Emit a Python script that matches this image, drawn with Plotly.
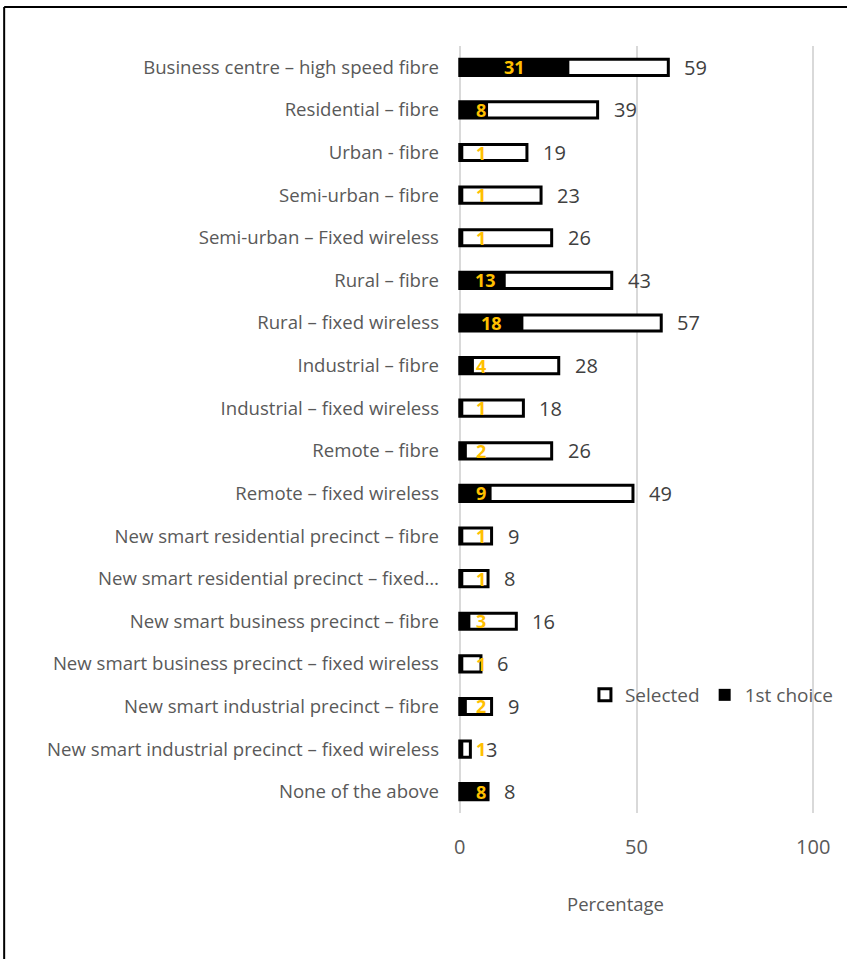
import plotly.graph_objects as go

categories = [
    "Business centre – high speed fibre",
    "Residential – fibre",
    "Urban - fibre",
    "Semi-urban – fibre",
    "Semi-urban – Fixed wireless",
    "Rural – fibre",
    "Rural – fixed wireless",
    "Industrial – fibre",
    "Industrial – fixed wireless",
    "Remote – fibre",
    "Remote – fixed wireless",
    "New smart residential precinct – fibre",
    "New smart residential precinct – fixed…",
    "New smart business precinct – fibre",
    "New smart business precinct – fixed wireless",
    "New smart industrial precinct – fibre",
    "New smart industrial precinct – fixed wireless",
    "None of the above",
]
selected = [59, 39, 19, 23, 26, 43, 57, 28, 18, 26, 49, 9, 8, 16, 6, 9, 3, 8]
first_choice = [31, 8, 1, 1, 1, 13, 18, 4, 1, 2, 9, 1, 1, 3, 1, 2, 1, 8]
x_ticks = [0, 50, 100]

FONT = "Open Sans"
W, H = 847, 959
PAD = 0.5                      # axis padding (data units) so edge gridlines show
UNIT = 3.53                    # px per data unit
L = 460 - PAD * UNIT
R = W - 813 - PAD * UNIT
T, B = 46, 146
PW, PH = W - L - R, H - T - B


def px_x(p):
    return (p - L) / PW


def px_y(p):
    return (H - B - p) / PH


fig = go.Figure()
fig.add_trace(go.Bar(
    name="Selected", y=categories, x=selected, orientation="h",
    marker=dict(color="white", line=dict(color="black", width=3)),
    width=0.38, hoverinfo="x+y",
))
fig.add_trace(go.Bar(
    name="1st choice", y=categories, x=first_choice, orientation="h",
    marker=dict(color="black", line=dict(color="black", width=0)),
    width=0.38, hoverinfo="x+y",
))

annotations = []
for c, s in zip(categories, selected):
    annotations.append(dict(
        x=s, y=c, xref="x", yref="y", text=str(s), showarrow=False,
        xanchor="left", yanchor="middle", xshift=14,
        font=dict(family=FONT, size=20, color="#404040"),
    ))
for c, f in zip(categories, first_choice):
    txt = str(f)
    xc = max(f / 2, 4.5 + len(txt) * 1.45)
    annotations.append(dict(
        x=xc, y=c, xref="x", yref="y", text="<b>%s</b>" % txt, showarrow=False,
        xanchor="center", yanchor="middle",
        font=dict(family=FONT, size=18, color="#FFC000"),
    ))
annotations.append(dict(
    x=px_x(616), y=px_y(904), xref="paper", yref="paper", text="Percentage",
    showarrow=False, xanchor="center", yanchor="middle",
    font=dict(family=FONT, size=18.5, color="#595959"),
))

shapes = [
    dict(type="line", xref="paper", yref="paper", x0=px_x(5), x1=px_x(850),
         y0=px_y(7), y1=px_y(7), line=dict(color="black", width=2)),
    dict(type="line", xref="paper", yref="paper", x0=px_x(5), x1=px_x(5),
         y0=px_y(7), y1=px_y(962), line=dict(color="black", width=2)),
]

fig.update_layout(
    width=W, height=H,
    margin=dict(l=L, r=R, t=T, b=B, pad=0, autoexpand=False),
    paper_bgcolor="white", plot_bgcolor="white",
    barmode="overlay",
    font=dict(family=FONT, color="#595959"),
    showlegend=True,
    legend=dict(
        orientation="h", x=px_x(585), y=px_y(695), xanchor="left", yanchor="middle",
        font=dict(family=FONT, size=19, color="#595959"),
        bgcolor="rgba(0,0,0,0)", itemwidth=30, tracegroupgap=0,
        traceorder="normal",
    ),
    annotations=annotations,
    shapes=shapes,
    xaxis=dict(
        range=[-PAD, 100 + PAD], tickvals=x_ticks, ticktext=[str(v) for v in x_ticks],
        showgrid=True, gridcolor="#d9d9d9", gridwidth=2,
        zeroline=False, showline=False,
        tickfont=dict(family=FONT, size=20, color="#595959"),
        ticklabelstandoff=20, fixedrange=True,
    ),
    yaxis=dict(
        categoryorder="array", categoryarray=categories, autorange="reversed",
        showgrid=False, zeroline=False, showline=False,
        tickfont=dict(family=FONT, size=18.6, color="#595959"),
        ticklabelstandoff=18,
    ),
)

fig.write_html(
    "out.html",
    config={"displayModeBar": False},
    post_script="document.body.style.margin='0px';document.body.style.overflow='hidden';",
)
